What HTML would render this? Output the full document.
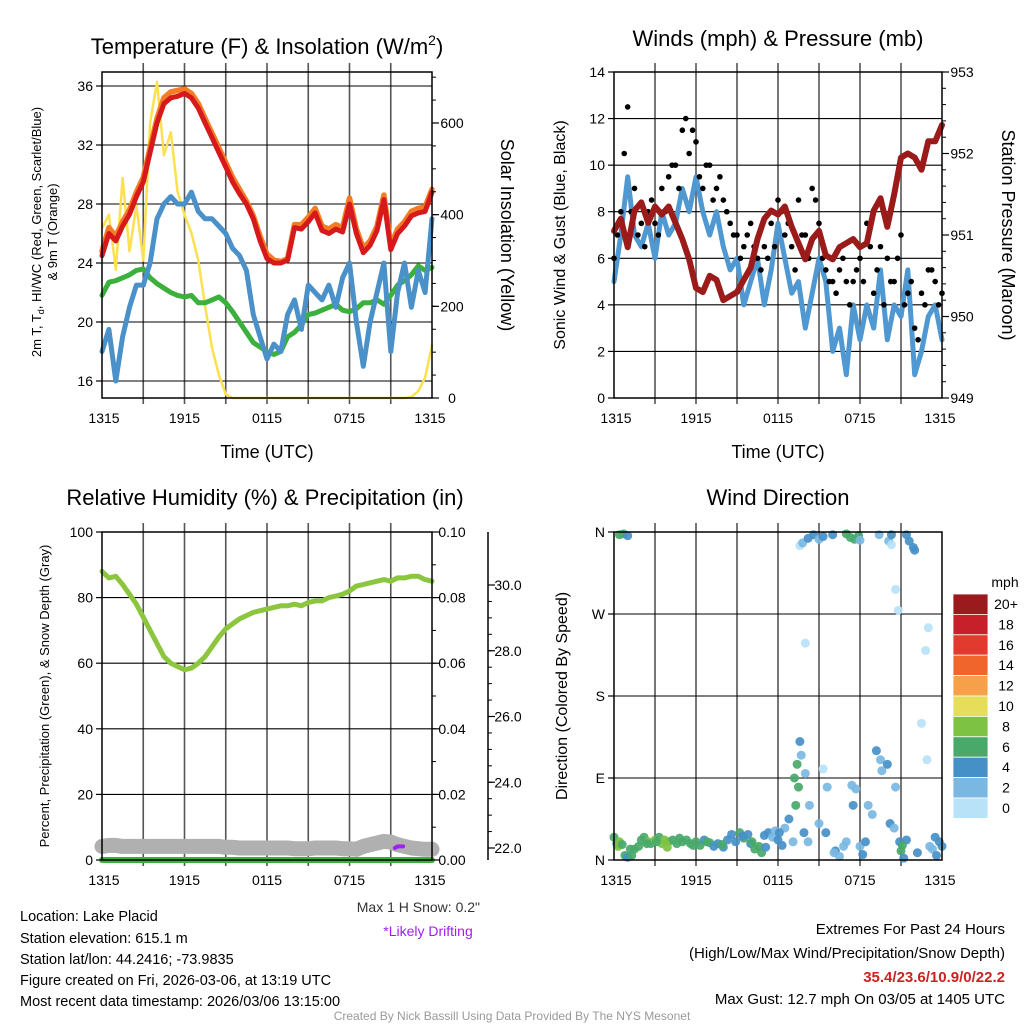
<!DOCTYPE html>
<html><head><meta charset="utf-8"><style>
html,body{margin:0;padding:0;background:#fff;}
svg{display:block;font-family:"Liberation Sans",Arial,sans-serif;}
</style></head><body>
<svg id="svg" width="1024" height="1024" viewBox="0 0 1024 1024" xmlns="http://www.w3.org/2000/svg">
<g id="grids"></g>
<g id="series"></g>
<g id="axes"></g>
<text x="267" y="54" font-size="22" text-anchor="middle">Temperature (F) &amp; Insolation (W/m<tspan dy="-9" font-size="14">2</tspan><tspan dy="9">)</tspan></text>
<text x="778" y="46" font-size="22" text-anchor="middle">Winds (mph) &amp; Pressure (mb)</text>
<text x="265" y="505" font-size="22" text-anchor="middle">Relative Humidity (%) &amp; Precipitation (in)</text>
<text x="778" y="505" font-size="22" text-anchor="middle">Wind Direction</text>
<text x="267" y="458" font-size="18" text-anchor="middle">Time (UTC)</text>
<text x="778" y="458" font-size="18" text-anchor="middle">Time (UTC)</text>
<text transform="translate(41,232) rotate(-90)" font-size="13" text-anchor="middle">2m T, T<tspan font-size="9" dy="3">d</tspan><tspan dy="-3">, HI/WC (Red, Green, Scarlet/Blue)</tspan></text>
<text transform="translate(57,232) rotate(-90)" font-size="13" text-anchor="middle">&amp; 9m T (Orange)</text>
<text transform="translate(501,235) rotate(90)" font-size="18" text-anchor="middle">Solar Insolation (Yellow)</text>
<text transform="translate(565,235) rotate(-90)" font-size="16" text-anchor="middle">Sonic Wind &amp; Gust (Blue, Black)</text>
<text transform="translate(1002,235) rotate(90)" font-size="18" text-anchor="middle">Station Pressure (Maroon)</text>
<text transform="translate(49,696) rotate(-90)" font-size="13" text-anchor="middle">Percent, Precipitation (Green), &amp; Snow Depth (Gray)</text>
<text transform="translate(567,696) rotate(-90)" font-size="16" text-anchor="middle">Direction (Colored By Speed)</text>
<text x="1005" y="587" font-size="14" text-anchor="middle">mph</text>
<text x="480" y="912" font-size="14" text-anchor="end" fill="#333">Max 1 H Snow: 0.2"</text>
<text x="428" y="936" font-size="14" text-anchor="middle" fill="#a020f0">*Likely Drifting</text>
<g font-size="14.5">
<text x="20" y="921">Location: Lake Placid</text>
<text x="20" y="943">Station elevation: 615.1 m</text>
<text x="20" y="964">Station lat/lon: 44.2416; -73.9835</text>
<text x="20" y="985">Figure created on Fri, 2026-03-06, at 13:19 UTC</text>
<text x="20" y="1006">Most recent data timestamp: 2026/03/06 13:15:00</text>
</g>
<g font-size="15" text-anchor="end">
<text x="1005" y="934">Extremes For Past 24 Hours</text>
<text x="1005" y="958">(High/Low/Max Wind/Precipitation/Snow Depth)</text>
<text x="1005" y="982" fill="#cc2222" font-weight="bold">35.4/23.6/10.9/0/22.2</text>
<text x="1005" y="1004">Max Gust: 12.7 mph On 03/05 at 1405 UTC</text>
</g>
<text x="512" y="1020" font-size="12" text-anchor="middle" fill="#999">Created By Nick Bassill Using Data Provided By The NYS Mesonet</text>
</svg>
<script>
// ---- data (time in hours since 1315 UTC, half-hour steps) ----
const hours = [0,0.5,1,1.5,2,2.5,3,3.5,4,4.5,5,5.5,6,6.5,7,7.5,8,8.5,9,9.5,10,10.5,11,11.5,12,12.5,13,13.5,14,14.5,15,15.5,16,16.5,17,17.5,18,18.5,19,19.5,20,20.5,21,21.5,22,22.5,23,23.5,24];
const timeTickLabels = ["1315","1915","0115","0715","1315"];
const tempRed = [24.5,26,25.5,26.5,27.3,28.5,29.5,31.5,33.5,34.8,35.2,35.3,35.5,35.2,34.5,33.5,32.5,31.5,30.5,29.5,28.7,28,27,25.5,24.3,24,24,24.2,26.4,26.3,26.8,27.4,26.2,26,26.3,26.1,28,26,24.7,25.2,26.2,28.3,24.9,26,26.5,27.2,27.4,27.5,28.8];
const tempOrange = [24.8,26.4,25.8,26.8,27.6,28.8,29.8,31.8,33.8,35.2,35.6,35.7,35.8,35.5,34.8,33.8,32.8,31.8,30.8,29.8,29,28.2,27.2,25.8,24.6,24.2,24.1,24.3,26.6,26.6,27.1,27.7,26.5,26.3,26.6,26.4,28.4,26.3,25,25.5,26.5,28.6,25.2,26.3,26.8,27.5,27.7,27.8,29];
const tempDew = [21.8,22.7,22.8,23,23.2,23.5,23.6,23,22.6,22.3,22,21.8,21.7,21.8,21.3,21.3,21.5,21.7,21.3,20.7,20,19.3,18.6,18.3,18,17.8,18,19,19.3,19.8,20.5,20.6,20.8,21,21.2,20.8,20.7,20.9,21.3,21.3,21.5,21.2,21.8,22.5,22.8,23.2,23.8,23.5,23.7];
const tempChill = [18,19.5,16,19,21,22.5,22.5,24,27,28,28.5,28,28,28.8,27.5,27,27,26.5,26,25,24.5,23.5,20.5,19,17.5,18.5,18,20.5,21.5,19.5,22.5,22,21.5,22.5,21,23,24,20,17,20,22,24,18,22,24,21,23.5,22,27];
const solar = [370,400,280,480,320,420,300,600,690,530,580,450,400,360,300,200,110,50,8,0,0,0,0,0,0,0,0,0,0,0,0,0,0,0,0,0,0,0,0,0,0,0,0,0,0,2,15,45,115];
const tempTicks = [16,20,24,28,32,36];
const solarTicks = [0,200,400,600];

const windSpeed = [5,7,9.5,7,6.5,7.5,6,8,7,7.5,9,8,9.5,8,7,8,6.5,5.5,6,4,5,6,4,5.5,7.5,6,4.5,5,3,4.5,6,5,2,3,1,4,2.5,4,3,5.5,2.5,4,3.5,5.5,1,2,3.5,4,2.5];
const windGust = [6,8,12.5,9,7.5,8,7.5,9,9.5,10,11.5,10.5,11,9,10,9,8.5,7.5,7,6.5,7.5,6,6.5,7.5,8.5,7,6.5,8.5,7,9,7.5,5.5,5,5.5,5,5,6,7.5,4.5,6.5,6,5,7,4.5,3,4.5,5.5,5,4.5];
const gustHours2 = [0.25,0.75,1.25,1.75,2.25,2.75,3.25,3.75,4.25,4.75,5.25,5.75,6.25,6.75,7.25,7.75,8.25,8.75,9.25,9.75,10.25,10.75,11.25,11.75,12.25,12.75,13.25,13.75,14.25,14.75,15.25,15.75,16.25,16.75,17.25,17.75,18.25,18.75,19.25,19.75,20.25,20.75,21.25,21.75,22.25,22.75,23.25,23.75];
const gustValues2 = [7,10.5,8,7,6.5,8.5,7,8,10,9,12,11.5,9.5,10,8.5,9.5,8,7,6,7,6.5,5.5,6,6.5,8,7.5,5.5,7,6,8.5,6,5,4.5,6,4,5.5,5,6.5,5.5,4,5,6,4,5,2.5,4,5.5,4];
const pressure = [951.05,951.2,950.85,951.3,951.4,951.15,951.35,951.25,951.35,951.15,950.95,950.7,950.35,950.3,950.5,950.45,950.2,950.25,950.3,950.45,950.6,950.95,951.2,951.3,951.25,951.35,951.1,950.9,950.7,950.95,951.05,950.75,950.7,950.85,950.9,950.95,950.85,950.9,951.3,951.45,951.1,951.5,951.95,952,951.95,951.8,952.15,952.15,952.35];
const windTicks = [0,2,4,6,8,10,12,14];
const pressureTicks = [949,950,951,952,953];

const rh = [88,86,86.5,84,81,78,74,70,66,62,60,59,58,58.5,60,62,65,68,70.5,72,73.5,74.5,75.5,76,76.5,77,77.5,77.5,78,77.5,78.5,79,79,80,80.5,81,82,83.5,84,84.5,85,85.5,85,86,86,86.5,86.5,85.5,85];
const precip = [0,0,0,0,0,0,0,0,0,0,0,0,0,0,0,0,0,0,0,0,0,0,0,0,0,0,0,0,0,0,0,0,0,0,0,0,0,0,0,0,0,0,0,0,0,0,0,0,0];
const snowDepth = [22.05,22.08,22.08,22.05,22.05,22.05,22.05,22.05,22.05,22.05,22.05,22.05,22.05,22.05,22.05,22.05,22.05,22.05,22.02,22.02,22.0,22.0,22.0,22.0,22.0,22.0,22.0,22.0,21.98,21.98,21.98,22.0,22.0,22.0,22.0,21.98,21.98,21.96,22.05,22.1,22.15,22.2,22.18,22.1,22.05,22.0,21.98,21.96,21.96];
const driftHours = [21.3,21.5,21.7,21.9];
const driftDepth = [22.0,22.05,22.05,22.05];
const rhTicks = [0,20,40,60,80,100];
const precipTicks = ["0.00","0.02","0.04","0.06","0.08","0.10"];
const snowTicks = [22,24,26,28,30];

const dirHours = [0,0.2,0.3,0.4,0.6,0.8,1.0,1.3,1.5,1.8,2.0,2.2,2.5,2.7,3.0,3.3,3.5,3.7,4.0,4.3,4.6,5,5.3,5.6,6,6.3,6.6,7,7.3,7.6,8,8.3,8.6,8.9,9.2,9.5,9.8,10,10.3,10.6,10.8,11,11.3,11.6,11.8,12,12.3,12.5,12.8,13.2,13.4,13.5,13.3,13.6,13.7,14,14.2,14.3,15,15.3,15.5,15.6,16.2,16.5,16.8,17,17.4,17.5,17.7,18,18.2,18.6,18.9,19.2,19.5,19.6,20,20.2,20.6,20.5,20.9,21,21.2,21.4,22.5,22.8,23,23.3,23.6,23.8,24,22.9,0.4,0.7,1,13.6,13.8,14.2,14.6,15,15.3,16,17,17.3,17.6,17.9,18,19.4,20.1,20.3,20.3,21.4,21.6,21.9,22,14,20.8,20.6,1.2,2.4,3.1,3.9,4.8,5.8,6.8,7.9,9.4,10.1,11.1,12.1,13.1,13.9,16.1,18.4,21.1,22.2,23.1,23.5];
const dirDeg = [25,18,15,20,17,5,3,5,12,15,22,25,20,18,22,25,18,22,20,22,18,20,22,18,20,16,22,19,15,18,14,22,28,20,30,24,28,18,12,15,8,27,30,25,32,22,16,35,45,90,105,80,60,130,115,95,20,60,40,100,30,80,10,4,15,20,82,60,78,15,6,60,50,120,110,98,105,40,80,35,20,10,2,22,150,230,255,12,5,20,15,110,357,358,356,345,348,353,357,352,355,357,358,354,352,356,351,357,350,357,346,357,350,343,340,238,274,297,12,18,20,14,24,16,20,17,26,20,14,30,20,30,8,20,16,8,15,25];
const dirSpeed = [6,4,9,9,7,7,5,6,6,6,7,7,8,7,8,7,9,9,8,7,7,7,7,7,6,6,5,6,4,4,4,4,4,5,6,6,5,5,6,6,6,4,4,3,3,4,4,3,4,6,6,7,6,4,3,3,2,3,3,1,4,3,4,3,3,3,2,4,3,3,4,2,3,4,2,3,4,4,3,2,4,6,4,4,1,1,1,3,4,4,4,1,7,6,4,1,2,4,4,3,4,4,6,7,6,6,3,3,2,4,1,4,4,4,4,1,1,1,6,7,7,8,7,7,6,6,5,6,4,4,3,4,3,4,6,4,3,4];
const dirTickLabels = ["N","E","S","W","N"];
const cbarLabels = ["20+","18","16","14","12","10","8","6","4","2","0"];
const cbarColors = ["#9b1a1d","#c8202a","#e33a2f","#f0652c","#f7a04a","#e6dd5a","#7dc242","#48a96a","#4690c8","#7ab8e3","#b7e2f7"];

// ---- layout helpers ----
const NS = "http://www.w3.org/2000/svg";
const grids = document.getElementById('grids');
const series = document.getElementById('series');
const axes = document.getElementById('axes');
function mk(parent, tag, attrs){ const e=document.createElementNS(NS,tag); for(const k in attrs) e.setAttribute(k,attrs[k]); parent.appendChild(e); return e; }
function linScale(d0,d1,r0,r1){ return v => r0+(v-d0)*(r1-r0)/(d1-d0); }
function pts(xs,ys,fx,fy){ return xs.map((h,i)=>fx(h).toFixed(1)+","+fy(ys[i]).toFixed(1)).join(" "); }
function speedColor(s){ const idx = Math.min(10, Math.max(0, Math.floor(s/2))); return cbarColors[10-idx]; }

const P1={l:102,r:432,t:72,b:398}, P2={l:614,r:942,t:72,b:398}, P3={l:102,r:432,t:532,b:860}, P4={l:614,r:942,t:532,b:860};

function timeGrid(P, name){
  const fx = linScale(0,24,P.l,P.r);
  for(let h=3; h<24; h+=3){
    const g = mk(grids,'line',{x1:fx(h),x2:fx(h),y1:P.t-9,y2:P.b+6,stroke:'#555','stroke-width':1.6});
    
    
  }
  timeTickLabels.forEach((lab,i)=>{
    const t = mk(axes,'text',{x:fx(i*6)+(i===0?2:(i===4?-2:0)),y:P.b+25,'font-size':14,'text-anchor':'middle'});
    t.textContent = lab;
    
    
  });
  return fx;
}
function frame(P,name){
  const f = mk(axes,'rect',{x:P.l,y:P.t,width:P.r-P.l,height:P.b-P.t,fill:'none',stroke:'#000','stroke-width':1.5});
  
  
}
function hGrid(P,fy,ticks,labels,name){
  ticks.forEach((v,i)=>{
    const y = fy(v);
    if(y>P.t+1 && y<P.b-1){
      const g = mk(grids,'line',{x1:P.l,x2:P.r,y1:y,y2:y,stroke:'#000','stroke-width':1.1});
      
      
    }
    const tk = mk(axes,'line',{x1:P.l-6,x2:P.l,y1:y,y2:y,stroke:'#000','stroke-width':1.2});
    
    
    const t = mk(axes,'text',{x:P.l-9,y:y+5,'font-size':14,'text-anchor':'end'});
    t.textContent = labels[i];
    
    
  });
}
function rightAxis(P,x,fy,ticks,labels,name,minorStep,lo,hi){
  ticks.forEach((v,i)=>{
    const y=fy(v);
    const tk = mk(axes,'line',{x1:x,x2:x+7,y1:y,y2:y,stroke:'#000','stroke-width':1.2});
    
    
    const t = mk(axes,'text',{x:x+20,y:y+5,'font-size':14,'text-anchor':'middle'});
    t.textContent = labels[i];
    
    
  });
  if(minorStep){
    for(let v=lo; v<=hi+1e-9; v+=minorStep){
      const y=fy(v);
      const m = mk(axes,'line',{x1:x,x2:x+4,y1:y,y2:y,stroke:'#000','stroke-width':1});
      
      
    }
  }
}
function poly(xs,ys,fx,fy,color,w,name){
  const p = mk(series,'polyline',{points:pts(xs,ys,fx,fy),fill:'none',stroke:color,'stroke-width':w,'stroke-linejoin':'round','stroke-linecap':'round'});
  
  
  return p;
}

// ---- panel 1: temperature ----
{
  const fx = timeGrid(P1,'temp');
  const fy = linScale(16,36,381,86);
  const fs = linScale(0,600,398,123);
  hGrid(P1,fy,tempTicks,tempTicks.map(String),'temp');
  poly(hours,solar,fx,fs,'#fbe14f',2.5,'solar-insolation-line');
  poly(hours,tempDew,fx,fy,'#3cb03c',5,'dewpoint-line');
  poly(hours,tempChill,fx,fy,'#4a90c9',5,'windchill-line');
  poly(hours,tempOrange,fx,fy,'#f47c25',5.5,'temp-9m-line');
  poly(hours,tempRed,fx,fy,'#d7191c',5,'temp-2m-line');
  frame(P1,'temp');
  rightAxis(P1,P1.r,fs,solarTicks,solarTicks.map(String),'solar-axis',50,0,700);
}
// ---- panel 2: wind ----
{
  const fx = timeGrid(P2,'wind');
  const fy = linScale(0,14,398,72);
  const fp = linScale(949,953,398,72);
  hGrid(P2,fy,windTicks,windTicks.map(String),'wind');
  poly(hours,windSpeed,fx,fy,'#4f98d2',5,'sonic-wind-line');
  hours.forEach((h,i)=>{
    const c = mk(series,'circle',{cx:fx(h),cy:fy(windGust[i]),r:2.8,fill:'#000'});
    
    
  });
  gustHours2.forEach((h,i)=>{
    const c = mk(series,'circle',{cx:fx(h),cy:fy(gustValues2[i]),r:2.8,fill:'#000'});
    
    
  });
  poly(hours,pressure,fx,fp,'#9b1b1b',6,'pressure-line');
  frame(P2,'wind');
  rightAxis(P2,P2.r,fp,pressureTicks,pressureTicks.map(String),'pressure-axis',0.2,949,953);
}
// ---- panel 3: RH / precip / snow ----
{
  const fx = timeGrid(P3,'rh');
  const fy = linScale(0,100,860,532);
  const fsn = linScale(22,30,848,585);
  const fpr = linScale(0,0.1,860,532);
  hGrid(P3,fy,rhTicks,rhTicks.map(String),'rh');
  poly(hours,snowDepth,fx,fsn,'#b0b0b0',15,'snow-depth-line');
  poly(driftHours,driftDepth,fx,fsn,'#a020f0',4,'drifting-snow-segment');
  poly(hours,precip,fx,fpr,'#3cb03c',6,'precipitation-line');
  poly(hours,rh,fx,fy,'#8cc63f',5,'relative-humidity-line');
  frame(P3,'rh');
  rightAxis(P3,P3.r,fpr,precipTicks.map(Number),precipTicks,'precip-axis',0.01,0,0.1);
  const ax = mk(axes,'line',{x1:488,x2:488,y1:532,y2:860,stroke:'#000','stroke-width':1.5});
  
  
  rightAxis(P3,488,fsn,snowTicks,snowTicks.map(v=>v.toFixed(1)),'snow-axis',0.5,22,30);
}
// ---- panel 4: direction ----
{
  const fx = timeGrid(P4,'dir');
  const fy = linScale(0,360,860,532);
  hGrid(P4,fy,[0,90,180,270,360],dirTickLabels,'dir');
  dirHours.forEach((h,i)=>{
    const c = mk(series,'circle',{cx:fx(h),cy:fy(dirDeg[i]),r:4.5,fill:speedColor(dirSpeed[i]),'fill-opacity':0.92});
    
    
  });
  frame(P4,'dir');
  const cbTop=594, cbH=20.4;
  cbarColors.forEach((col,i)=>{
    const r = mk(axes,'rect',{x:953,y:cbTop+i*cbH,width:35,height:cbH,fill:col,stroke:'#fff','stroke-width':0.8});
    
    
  });
  cbarLabels.forEach((lab,i)=>{
    const t = mk(axes,'text',{x:1006,y:cbTop+i*cbH+15,'font-size':14,'text-anchor':'middle'});
    t.textContent = lab;
    
    
  });
}
</script>
</body></html>
